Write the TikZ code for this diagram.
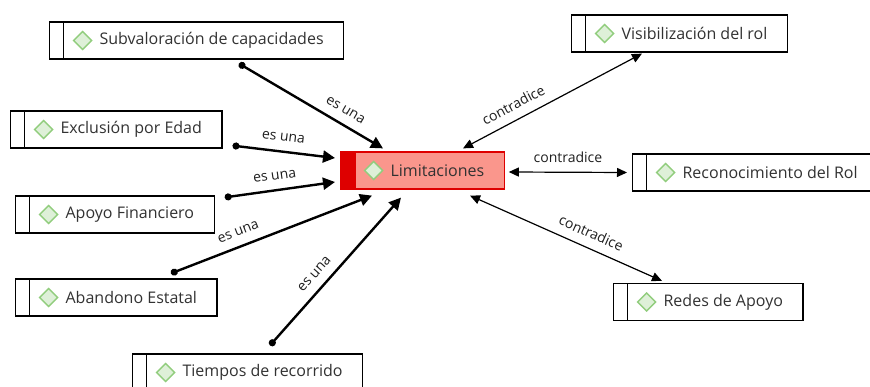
\documentclass[tikz,border=0pt]{standalone}
\usepackage{fontspec}
\setmainfont{Open Sans}
\usetikzlibrary{calc,arrows.meta}

\definecolor{txtgray}{RGB}{50,50,50}
\definecolor{lblgray}{RGB}{30,30,30}
\definecolor{limfill}{RGB}{250,150,140}
\definecolor{limred}{RGB}{222,0,0}
\definecolor{dmdfill}{RGB}{222,240,216}
\definecolor{dmdline}{RGB}{145,205,125}

\tikzset{
  concept/.style={draw=black, line width=1.2pt, fill=white, anchor=west,
    minimum height=37pt, inner ysep=0pt, inner xsep=20pt, text=txtgray,
    font=\fontsize{16}{18}\selectfont,
    execute at begin node={\hspace*{30pt}},
    path picture={
      \draw[black, line width=1.2pt]
        ($(path picture bounding box.north west)+(14,0)$) --
        ($(path picture bounding box.south west)+(14,0)$);
      \draw[dmdline, fill=dmdfill, line width=1.3pt]
        ($(path picture bounding box.west)+(33,0)$)
        +(-9,0) -- +(0,-9) -- +(9,0) -- +(0,9) -- cycle;
    }},
  central/.style={concept, draw=limred, fill=limfill,
    path picture={
      \fill[limred] (path picture bounding box.north west) rectangle
        ($(path picture bounding box.south west)+(15,0)$);
      \draw[dmdline, fill=dmdfill, line width=1.3pt]
        ($(path picture bounding box.west)+(33,0)$)
        +(-9,0) -- +(0,-9) -- +(9,0) -- +(0,9) -- cycle;
    }},
  esuna/.style={line width=2.4pt, {Circle[length=7pt]}-{Triangle[length=12pt,width=12pt]}},
  contra/.style={line width=1.2pt, {Triangle[length=10pt,width=9pt]}-{Triangle[length=10pt,width=9pt]}},
  lbl/.style={sloped, above, inner sep=9pt, text=lblgray, font=\fontsize{14}{16}\selectfont}
}

\begin{document}
\begin{tikzpicture}[x=1pt,y=-1pt]
  \useasboundingbox (0,0) rectangle (870,387);

  % concepts
  \node[central] (limit) at (340,170.5) {Limitaciones};
  \node[concept] (subval) at (49,40.5) {Subvaloración de capacidades};
  \node[concept] (exclusion) at (10,129.5) {Exclusión por Edad};
  \node[concept] (apoyo) at (15,214.5) {Apoyo Financiero};
  \node[concept] (abandono) at (15,297.5) {Abandono Estatal};
  \node[concept] (tiempos) at (132,372.5) {Tiempos de recorrido};
  \node[concept] (visib) at (571,33.5) {Visibilización del rol};
  \node[concept] (reconoc) at (632,172.5) {Reconocimiento del Rol};
  \node[concept] (redes) at (613,302) {Redes de Apoyo};

  % es una
  \draw[esuna] ($(subval.south west)+(190,4)$) -- node[lbl, pos=0.69] {es una} ($(limit.north west)+(43,-3)$);
  \draw[esuna] ($(exclusion.south east)+(10,-3)$) -- node[lbl, pos=0.48] {es una} ($(limit.west)+(-5,-12.5)$);
  \draw[esuna] ($(apoyo.north east)+(10,2)$) -- node[lbl, pos=0.47] {es una} ($(limit.west)+(-5,11.5)$);
  \draw[esuna] ($(abandono.north west)+(156,-5)$) -- node[lbl, pos=0.36] {es una} ($(limit.south west)+(32,6)$);
  \draw[esuna] ($(tiempos.north west)+(138,-8)$) -- node[lbl, pos=0.42] {es una} ($(limit.south west)+(61,8)$);

  % contradice
  \draw[contra] ($(limit.north west)+(123,-3)$) -- node[lbl, pos=0.32] {contradice} ($(visib.south west)+(71,1)$);
  \draw[contra] ($(limit.east)+(4,1.5)$) -- node[lbl, pos=0.5] {contradice} ($(reconoc.west)+(-5,0)$);
  \draw[contra] ($(limit.south west)+(130,6)$) -- node[lbl, pos=0.6] {contradice} ($(redes.north west)+(49,-2)$);
\end{tikzpicture}
\end{document}
